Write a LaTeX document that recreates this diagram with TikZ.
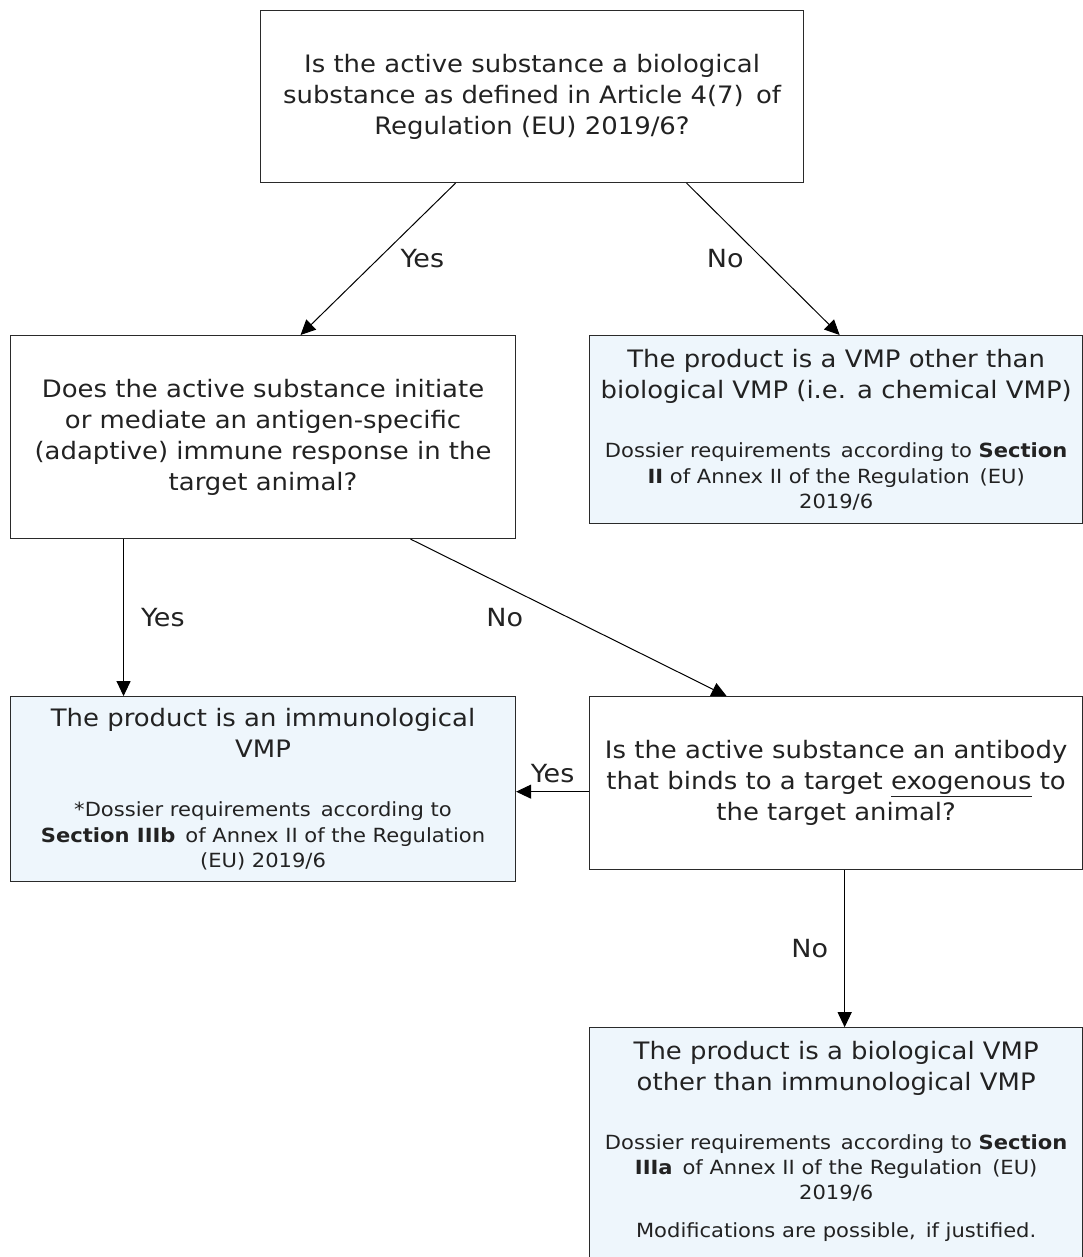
\documentclass[tikz,border=0pt]{standalone}
\usepackage{fontspec}
\setmainfont{DejaVu Sans}[FakeStretch=1.08]
\usepackage{xcolor}
\usepackage{tikz}
\usetikzlibrary{arrows.meta, positioning}
\definecolor{ink}{HTML}{222222}
\definecolor{edge}{HTML}{2A2A2A}
\definecolor{resfill}{HTML}{EEF6FC}
\tikzstyle{question} = [rectangle, align=center, draw=edge, line width=1.1pt, fill=white, text=ink, font=\fontsize{24}{31}\selectfont]
\tikzstyle{result} = [rectangle, align=center, draw=edge, line width=1.1pt, fill=resfill, text=ink, font=\fontsize{19.5}{25.5}\selectfont]
\tikzstyle{arrow} = [line width=1pt, ->, >={Triangle[length=15pt,width=14pt]}]
\tikzstyle{answer} = [inner sep=2pt, text=ink, font=\fontsize{25}{28}\selectfont]
\newcommand{\headline}[1]{{\fontsize{24}{25.5}\selectfont #1}}

\begin{document}
\begin{tikzpicture}[x=1pt, y=1pt, node distance=73pt]
    \useasboundingbox (0,0) rectangle (1083,-1257);
    \node[question, minimum width=543pt, minimum height=172pt, anchor=north west] (isbio) at (260,-10)
        {Is the active substance a biological\\substance as defined in Article 4(7)\, of\\Regulation (EU) 2019/6?};
    \node[question, minimum width=505pt, minimum height=203pt, anchor=north west] (antigen) at (10,-335)
        {Does the active substance initiate\\or mediate an antigen-specific\\(adaptive) immune response in the\\target animal?};
    \node[result, minimum width=493pt, minimum height=188pt, right=73pt of antigen.north east, anchor=north west] (chemical)
        {\headline{The product is a VMP other than}\\[6pt]
         \headline{biological VMP (i.e. a chemical VMP)}\\[33.5pt]
         Dossier requirements\, according to \textbf{Section}\\
         \textbf{II} of Annex II of the Regulation\, (EU)\\
         2019/6};
    \node[result, minimum width=505pt, minimum height=185pt, below=157pt of antigen.south west, anchor=north west] (immuno)
        {\headline{The product is an immunological}\\[6pt]
         \headline{VMP}\\[33.5pt]
         *Dossier requirements\, according to\\
         \textbf{Section IIIb}\, of Annex II of the Regulation\\
         (EU) 2019/6};
    \node[question, minimum width=493pt, minimum height=173pt, right=73pt of immuno.north east, anchor=north west] (antibody)
        {Is the active substance an antibody\\that binds to a target \underline{exogenous} to\\the target animal?};
    \node[result, minimum width=493pt, inner ysep=13.5pt, text depth=40pt, below=157pt of antibody.south west, anchor=north west] (biological)
        {\headline{The product is a biological VMP}\\[6pt]
         \headline{other than immunological VMP}\\[32.5pt]
         Dossier requirements\, according to \textbf{Section}\\
         \textbf{IIIa}\, of Annex II of the Regulation\, (EU)\\
         2019/6\\[12.5pt]
         Modifications are possible,\, if justified.};

    \draw[arrow] ([xshift=-76.5pt]isbio.south) -- node[answer, midway, right=20pt] (yes1) {Yes} ([xshift=37.5pt]antigen.north);
    \draw[arrow] ([xshift=154.5pt]isbio.south) -- node[answer, midway, left=17pt] (no1) {No} ([xshift=3.5pt]chemical.north);
    \draw[arrow] ([xshift=-139.5pt]antigen.south) -- node[answer, midway, right=15pt] (yes2) {Yes} ([xshift=-139.5pt]immuno.north);
    \draw[arrow] ([xshift=147.5pt]antigen.south) -- node[answer, midway, left=43pt] (no2) {No} ([xshift=-109.5pt]antibody.north);
    \draw[arrow] ([yshift=-8.5pt]antibody.west) -- node[answer, midway, above=6pt] (yes3) {Yes} ([yshift=-8.5pt]antibody.west -| immuno.east);
    \draw[arrow] ([xshift=8.5pt]antibody.south) -- node[answer, midway, left=14pt] (no3) {No} ([xshift=8.5pt]biological.north);
\end{tikzpicture}
\end{document}
